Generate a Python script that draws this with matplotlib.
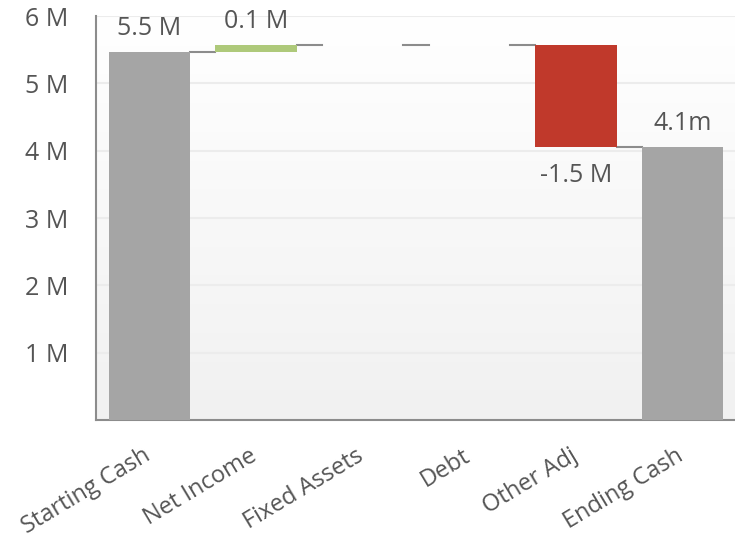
import numpy as np
import matplotlib
matplotlib.use("Agg")
import matplotlib.pyplot as plt
import matplotlib.transforms as mtransforms

# waterfall data (millions)
categories = ["Starting Cash", "Net Income", "Fixed Assets", "Debt", "Other Adj", "Ending Cash"]
changes = [5.46, 0.11, 0.0, 0.0, -1.51, 0.0]
is_total = [True, False, False, False, False, True]
labels = ["5.5 M", "0.1 M", "", "", "-1.5 M", "4.1m"]
yticks = [1, 2, 3, 4, 5, 6]
ytick_labels = ["1 M", "2 M", "3 M", "4 M", "5 M", "6 M"]

GRAY = "#a5a5a5"
GREEN = "#aec97a"
RED = "#c0392b"
TEXT = "#555555"

plt.rcParams["font.family"] = ["Open Sans", "DejaVu Sans"]

# running totals
bottoms, heights, colors = [], [], []
level = 0.0
for i, ch in enumerate(changes):
    if is_total[i]:
        if i > 0:
            ch = level
        bottoms.append(0.0)
        heights.append(ch)
        colors.append(GRAY)
        level = ch
    else:
        if ch >= 0:
            bottoms.append(level)
            heights.append(ch)
            colors.append(GREEN)
        else:
            bottoms.append(level + ch)
            heights.append(-ch)
            colors.append(RED)
        level += ch

fig = plt.figure(figsize=(7.35, 5.41), dpi=100)
ax = fig.add_axes([96 / 735, 121 / 541, 640 / 735, 404 / 541])

x = np.arange(len(categories))
width = 0.76

ax.set_xlim(-0.5, len(categories) - 0.5)
ax.set_ylim(0, 6)

# soft vertical gradient background
grad = np.linspace(0, 1, 256).reshape(-1, 1)
ax.imshow(grad, extent=(-0.5, len(categories) - 0.5, 0, 6), aspect="auto",
          cmap=matplotlib.colors.LinearSegmentedColormap.from_list("bg", ["#f1f1f1", "#ffffff"]),
          origin="lower", zorder=0)

for y in yticks:
    ax.axhline(y, color="#ececec", lw=1.5, zorder=1)

ax.bar(x, heights, width, bottom=bottoms, color=colors, zorder=3)

# connectors
tops = []
level = 0.0
for i, ch in enumerate(changes):
    level = level if (is_total[i] and i > 0) else level + ch
    tops.append(level)
for i in range(len(categories) - 1):
    ax.plot([x[i] + width / 2, x[i + 1] - width / 2], [tops[i], tops[i]],
            color="#8c8c8c", lw=1.5, zorder=2)

for i, lab in enumerate(labels):
    if not lab:
        continue
    if changes[i] < 0:
        ax.annotate(lab, (x[i], bottoms[i]), xytext=(0, -12), textcoords="offset points",
                    ha="center", va="top", fontsize=18, color=TEXT)
    else:
        ax.annotate(lab, (x[i], bottoms[i] + heights[i]), xytext=(0, 8), textcoords="offset points",
                    ha="center", va="bottom", fontsize=18, color=TEXT)

ax.set_yticks(yticks)
ax.set_yticklabels(ytick_labels, fontsize=18, color=TEXT)
ax.set_xticks(x)
ax.set_xticklabels(categories, rotation=31, ha="right", rotation_mode="anchor",
                   fontsize=17, color=TEXT)
ax.tick_params(length=0)
ax.tick_params(axis="y", pad=20)
ax.tick_params(axis="x", pad=17)
shift = mtransforms.ScaledTranslation(-7 / 100, 0, fig.dpi_scale_trans)
for t in ax.get_xticklabels():
    t.set_transform(t.get_transform() + shift)

for s in ["top", "right"]:
    ax.spines[s].set_visible(False)
for s in ["left", "bottom"]:
    ax.spines[s].set_color("#8c8c8c")
    ax.spines[s].set_linewidth(1.5)

fig.savefig("out.png", dpi=100)
